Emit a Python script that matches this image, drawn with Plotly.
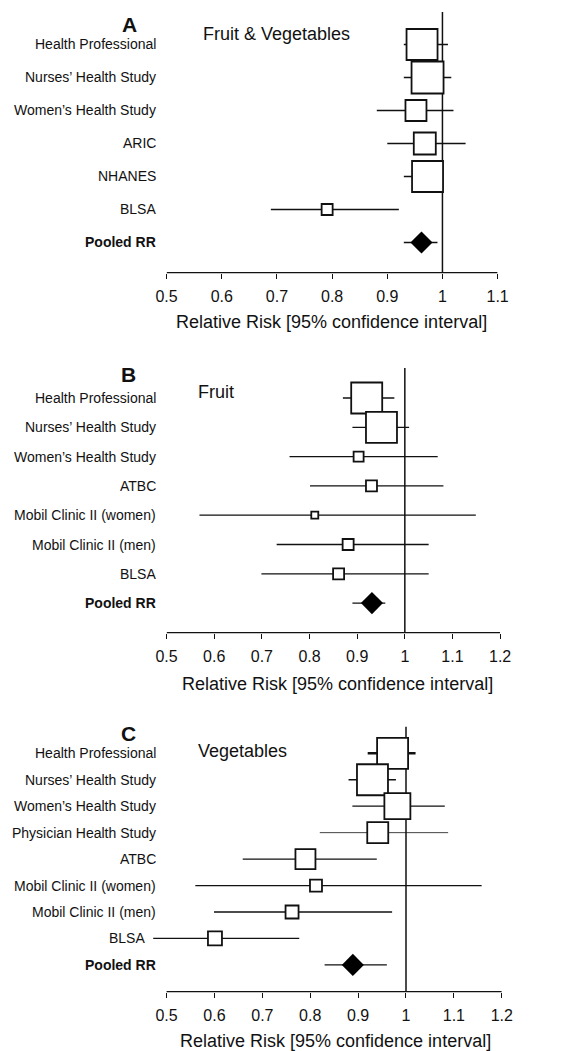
import plotly.graph_objects as go

# ---------------- data ----------------
names_a = ["Health Professional", "Nurses’ Health Study", "Women’s Health Study",
           "ARIC", "NHANES", "BLSA", "Pooled RR"]
rr_a = [0.963, 0.973, 0.952, 0.968, 0.973, 0.791, 0.962]
lo_a = [0.930, 0.930, 0.881, 0.900, 0.930, 0.689, 0.930]
hi_a = [1.010, 1.016, 1.020, 1.042, 1.000, 0.921, 0.991]
weight_a = [31, 32, 21, 22, 31, 11]

names_b = ["Health Professional", "Nurses’ Health Study", "Women’s Health Study",
           "ATBC", "Mobil Clinic II (women)", "Mobil Clinic II (men)", "BLSA", "Pooled RR"]
rr_b = [0.920, 0.951, 0.903, 0.930, 0.811, 0.881, 0.861, 0.931]
lo_b = [0.870, 0.890, 0.758, 0.801, 0.569, 0.731, 0.699, 0.890]
hi_b = [0.978, 1.009, 1.069, 1.081, 1.149, 1.050, 1.050, 0.959]
weight_b = [31, 31, 10, 11, 7, 11, 11]

names_c = ["Health Professional", "Nurses’ Health Study", "Women’s Health Study",
           "Physician Health Study", "ATBC", "Mobil Clinic II (women)",
           "Mobil Clinic II (men)", "BLSA", "Pooled RR"]
rr_c = [0.972, 0.930, 0.982, 0.941, 0.790, 0.812, 0.762, 0.601, 0.889]
lo_c = [0.920, 0.880, 0.888, 0.820, 0.659, 0.560, 0.599, 0.472, 0.830]
hi_c = [1.020, 0.979, 1.081, 1.088, 0.939, 1.158, 0.971, 0.777, 0.960]
weight_c = [31, 31, 26, 21, 20, 12, 13, 14]

ticks_a = [0.5, 0.6, 0.7, 0.8, 0.9, 1.0, 1.1]
ticks_bc = [0.5, 0.6, 0.7, 0.8, 0.9, 1.0, 1.1, 1.2]
tick_text_a = ["0.5", "0.6", "0.7", "0.8", "0.9", "1", "1.1"]
tick_text_bc = ["0.5", "0.6", "0.7", "0.8", "0.9", "1", "1.1", "1.2"]

panel_letters = ["A", "B", "C"]
panel_titles = ["Fruit & Vegetables", "Fruit", "Vegetables"]
x_title = "Relative Risk [95% confidence interval]"

# ---------------- layout (pixels) ----------------
W, H = 583, 1051
FONT = "Liberation Sans, Arial, Helvetica, sans-serif"
INK = "#111111"

geo = [
    dict(x0=161.7, x1=505.7, xr=(0.5, 1.1), axis_lo=0.5, top=12, bottom=272.7,
         row0=44.5, step=33.0, letter=(123, 25), title=(197, 34), xt=(333, 322),
         ci_w=None),
    dict(x0=161.7, x1=508.3, xr=(0.5, 1.2), axis_lo=0.5, top=368, bottom=632.7,
         row0=398.0, step=29.3, letter=(122, 374), title=(192, 392), xt=(339, 684),
         ci_w=None),
    dict(x0=141.8, x1=510.0, xr=(0.46, 1.2), axis_lo=0.5, top=726.7, bottom=991.7,
         row0=753.3, step=26.45, letter=(122, 733), title=(192, 751), xt=(337, 1040.5),
         ci_w=[2.4, 1.3, 1.3, 0.8, 1.3, 1.3, 1.3, 1.3, 1.3]),
]
label_right = 153
label_shift = {(2, 7): 141}  # BLSA label in panel C moved left of its CI line

data = [
    (names_a, rr_a, lo_a, hi_a, weight_a, ticks_a, tick_text_a),
    (names_b, rr_b, lo_b, hi_b, weight_b, ticks_bc, tick_text_bc),
    (names_c, rr_c, lo_c, hi_c, weight_c, ticks_bc, tick_text_bc),
]

fig = go.Figure()
annotations = []
shapes = []


def px(x):
    return x / W


def py(y):
    return 1 - y / H


for i, (g, (names, rr, lo, hi, wt, tv, tt)) in enumerate(zip(geo, data)):
    n = i + 1
    xa = "x" if n == 1 else f"x{n}"
    ya = "y" if n == 1 else f"y{n}"
    xkey = "xaxis" if n == 1 else f"xaxis{n}"
    ykey = "yaxis" if n == 1 else f"yaxis{n}"

    y_top = (g["top"] - g["row0"]) / g["step"]
    y_bot = (g["bottom"] - g["row0"]) / g["step"]

    fig.update_layout({
        xkey: dict(domain=[px(g["x0"]), px(g["x1"])], range=list(g["xr"]),
                   anchor=ya, showgrid=False, zeroline=False, showline=False,
                   tickmode="array", tickvals=tv, ticktext=tt,
                   ticks="outside", ticklen=5, tickwidth=1.3, tickcolor=INK,
                   ticklabelstandoff=4,
                   tickfont=dict(family=FONT, size=16, color=INK), fixedrange=True),
        ykey: dict(domain=[py(g["bottom"]), py(g["top"])], range=[y_bot, y_top],
                   anchor=xa, visible=False, showgrid=False, zeroline=False,
                   fixedrange=True),
    })

    # reference line at RR = 1
    shapes.append(dict(type="line", xref=xa, yref=f"{ya} domain", x0=1, x1=1,
                       y0=0, y1=1, line=dict(color=INK, width=1.5), layer="below"))
    # axis baseline
    shapes.append(dict(type="line", xref=xa, yref=f"{ya} domain", x0=g["axis_lo"],
                       x1=tv[-1], y0=0, y1=0, line=dict(color=INK, width=1.3)))

    rows = list(range(len(names)))
    # confidence intervals
    for k in rows:
        w = g["ci_w"][k] if g["ci_w"] else 1.3
        fig.add_trace(go.Scatter(x=[lo[k], hi[k]], y=[k, k], mode="lines",
                                 line=dict(color=INK, width=w), xaxis=xa, yaxis=ya,
                                 showlegend=False, hoverinfo="skip"))
    # study boxes
    ns = len(wt)
    fig.add_trace(go.Scatter(x=rr[:ns], y=rows[:ns], mode="markers",
                             marker=dict(symbol="square", size=wt, color="white",
                                         opacity=1,
                                         line=dict(color=INK, width=1.8)),
                             xaxis=xa, yaxis=ya, showlegend=False))
    # pooled diamond
    fig.add_trace(go.Scatter(x=rr[ns:], y=rows[ns:], mode="markers",
                             marker=dict(symbol="diamond", size=17, color="black",
                                         opacity=1,
                                         line=dict(color="black", width=0)),
                             xaxis=xa, yaxis=ya, showlegend=False))

    # row labels
    for k, name in enumerate(names):
        bold = name == "Pooled RR"
        annotations.append(dict(
            text=f"<b>{name}</b>" if bold else name,
            xref="paper", x=px(label_shift.get((i, k), label_right)), xanchor="right",
            yref=ya, y=k, yanchor="middle", showarrow=False,
            font=dict(family=FONT, size=14, color=INK)))

    # panel letter and title
    annotations.append(dict(text=f"<b>{panel_letters[i]}</b>", xref="paper", yref="paper",
                            x=px(g["letter"][0]), y=py(g["letter"][1]),
                            xanchor="center", yanchor="middle", showarrow=False,
                            font=dict(family=FONT, size=21, color=INK)))
    annotations.append(dict(text=panel_titles[i], xref="paper", yref="paper",
                            x=px(g["title"][0]), y=py(g["title"][1]),
                            xanchor="left", yanchor="middle", showarrow=False,
                            font=dict(family=FONT, size=18, color=INK)))
    annotations.append(dict(text=x_title, xref="paper", yref="paper",
                            x=px(g["xt"][0]), y=py(g["xt"][1]),
                            xanchor="center", yanchor="middle", showarrow=False,
                            font=dict(family=FONT, size=18, color=INK)))

fig.update_layout(width=W, height=H, margin=dict(l=0, r=0, t=0, b=0),
                  paper_bgcolor="white", plot_bgcolor="white",
                  annotations=annotations, shapes=shapes,
                  font=dict(family=FONT, color=INK))

fig.write_html("out.html", config=dict(displayModeBar=False),
               post_script="document.body.style.margin='0px';"
                           "document.body.style.overflow='hidden';")
